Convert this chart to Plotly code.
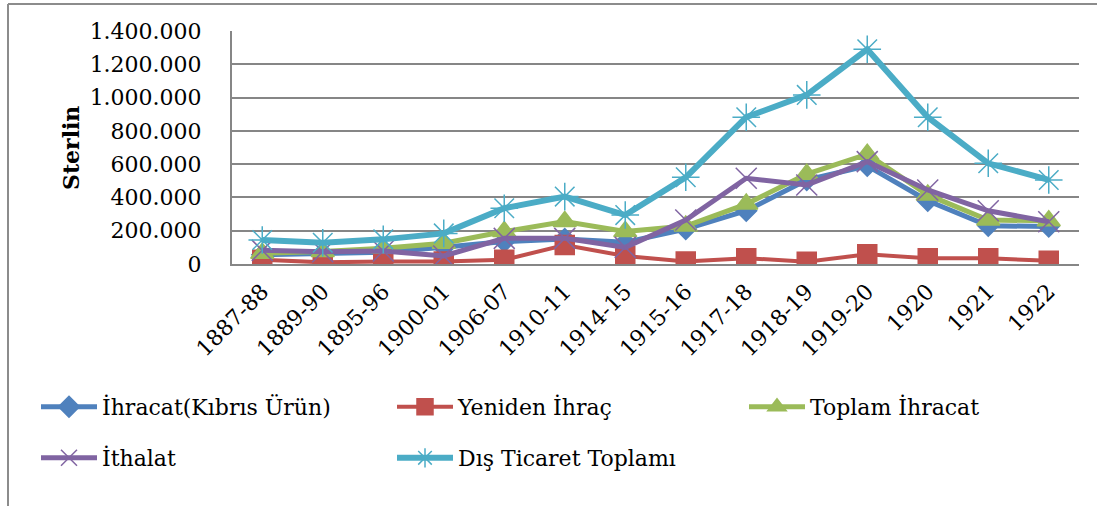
import plotly.graph_objects as go

categories = ["1887-88", "1889-90", "1895-96", "1900-01", "1906-07", "1910-11", "1914-15",
              "1915-16", "1917-18", "1918-19", "1919-20", "1920", "1921", "1922"]

ihracat_kibris = [55000, 60000, 70000, 100000, 135000, 150000, 130000,
                  210000, 320000, 505000, 590000, 380000, 230000, 225000]
yeniden_ihrac = [25000, 10000, 15000, 15000, 25000, 114000, 48000,
                 15000, 35000, 14000, 58000, 34000, 34000, 20000]
toplam_ihracat = [65000, 75000, 95000, 125000, 195000, 255000, 195000,
                  228000, 360000, 540000, 660000, 415000, 264000, 260000]
ithalat = [82000, 74000, 78000, 48000, 154000, 154000, 100000,
           264000, 515000, 475000, 615000, 445000, 320000, 254000]
dis_ticaret = [144000, 128000, 148000, 184000, 335000, 405000, 294000,
               521000, 882000, 1016000, 1290000, 882000, 605000, 505000]

series_names = ["İhracat(Kıbrıs Ürün)", "Yeniden İhraç", "Toplam İhracat", "İthalat", "Dış Ticaret Toplamı"]
y_ticks = [0, 200000, 400000, 600000, 800000, 1000000, 1200000, 1400000]

FONT = "DejaVu Serif"
W, H = 1097, 506
L, R, T, B = 232, 1079, 31, 264

def px_x(p):
    return (p - L) / (R - L)

def px_y(p):
    return (B - p) / (B - T)

styles = [
    dict(color="#4F81BD", symbol="diamond", size=16, lw=5),
    dict(color="#C0504D", symbol="square", size=19, lw=4),
    dict(color="#9BBB59", symbol="triangle-up", size=20, lw=5),
    dict(color="#8064A2", symbol="x-thin-open", size=21, lw=5),
    dict(color="#4BACC6", symbol="asterisk-open", size=23, lw=6),
]
data = [ihracat_kibris, yeniden_ihrac, toplam_ihracat, ithalat, dis_ticaret]
legends = ["legend", "legend", "legend3", "legend2", "legend2"]

fig = go.Figure()
for name, vals, st, lg in zip(series_names, data, styles, legends):
    fig.add_trace(go.Scatter(
        x=categories, y=vals, name=name, mode="lines+markers",
        line=dict(color=st["color"], width=st["lw"]),
        marker=dict(symbol=st["symbol"], size=st["size"], color=st["color"],
                    line=dict(color=st["color"], width=1.5)),
        legend=lg,
    ))

legend_common = dict(
    orientation="h", xanchor="left", yanchor="middle",
    font=dict(family=FONT, size=22, color="black"),
    entrywidth=285, entrywidthmode="pixels", bgcolor="rgba(0,0,0,0)",
    itemwidth=56, traceorder="normal",
)

fig.update_layout(
    width=W, height=H,
    margin=dict(l=L, r=W - R, t=T, b=H - B, autoexpand=False),
    paper_bgcolor="white", plot_bgcolor="white",
    separators=",.",
    showlegend=True,
    legend=dict(x=px_x(36), y=px_y(407), **legend_common),
    legend2=dict(x=px_x(36), y=px_y(458), **legend_common),
    legend3=dict(x=px_x(744), y=px_y(407), **legend_common),
    xaxis=dict(
        type="category", range=[-0.5, len(categories) - 0.5],
        showgrid=False, showline=True, linecolor="#868686", linewidth=2,
        tickangle=-45, tickfont=dict(family=FONT, size=22, color="black"),
        ticks="", ticklabelstandoff=4,
    ),
    yaxis=dict(
        range=[0, 1400000], tickvals=y_ticks, tickformat=",d",
        showgrid=True, gridcolor="#868686", gridwidth=2,
        showline=True, linecolor="#868686", linewidth=2,
        tickfont=dict(family=FONT, size=22, color="black"),
        ticks="", ticklabelstandoff=24, zeroline=False,
    ),
    annotations=[dict(
        text="<b>Sterlin</b>", textangle=-90, xref="paper", yref="paper",
        x=px_x(71), y=px_y(148), xanchor="center", yanchor="middle", showarrow=False,
        font=dict(family=FONT, size=22, color="black"),
    )],
    shapes=[
        dict(type="line", xref="paper", yref="paper", x0=px_x(8), x1=px_x(1097),
             y0=px_y(4), y1=px_y(4), line=dict(color="#8c8c8c", width=2)),
        dict(type="line", xref="paper", yref="paper", x0=px_x(8), x1=px_x(8),
             y0=px_y(4), y1=px_y(506), line=dict(color="#8c8c8c", width=2)),
    ],
)

fig.write_html("out.html", config={"displayModeBar": False},
               post_script="document.body.style.margin='0';")
